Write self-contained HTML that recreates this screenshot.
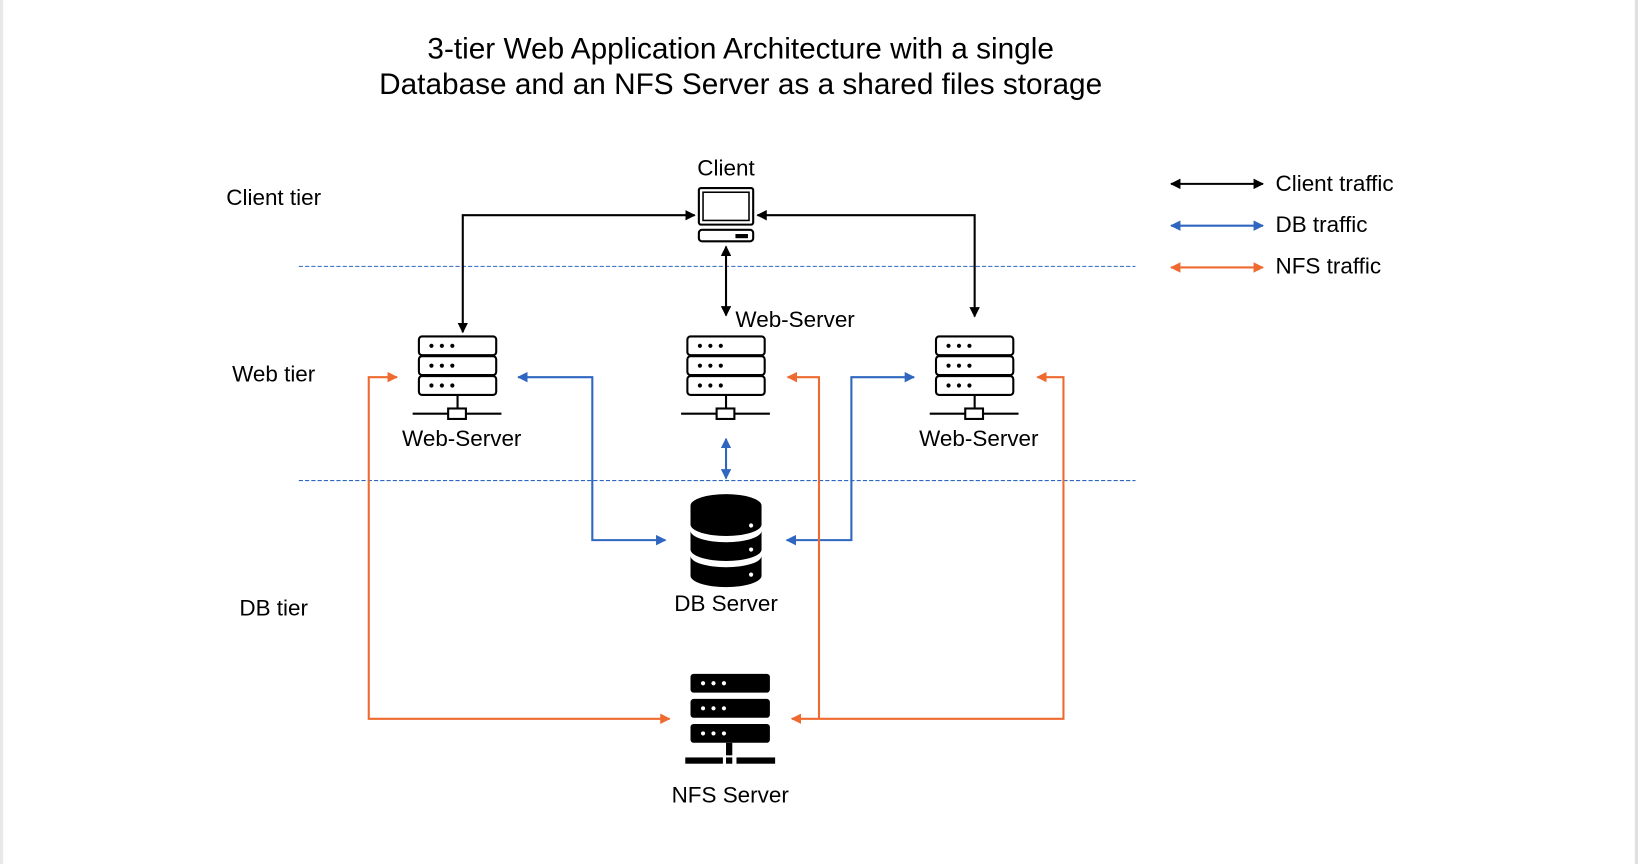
<!DOCTYPE html>
<html><head><meta charset="utf-8"><style>html,body{margin:0;padding:0;background:#fff;}svg{display:block}text{font-family:"Liberation Sans",Arial,sans-serif;fill:#000}</style></head><body>
<svg width="1638" height="864" viewBox="0 0 1568 827" preserveAspectRatio="none" xmlns="http://www.w3.org/2000/svg">
<defs>
<marker id="ak" viewBox="0 0 10 10" refX="9" refY="5" markerWidth="10" markerHeight="10" markerUnits="userSpaceOnUse" orient="auto-start-reverse"><path d="M0,0L10,5L0,10z" fill="#000"/></marker>
<marker id="ab" viewBox="0 0 10 10" refX="9" refY="5" markerWidth="10" markerHeight="10" markerUnits="userSpaceOnUse" orient="auto-start-reverse"><path d="M0,0L10,5L0,10z" fill="#2f67c0"/></marker>
<marker id="ao" viewBox="0 0 10 10" refX="9" refY="5" markerWidth="10" markerHeight="10" markerUnits="userSpaceOnUse" orient="auto-start-reverse"><path d="M0,0L10,5L0,10z" fill="#ee6a30"/></marker>
<g id="srv">
<rect x="1" y="1" width="74" height="18" rx="3" fill="#fff" stroke="#000" stroke-width="2"/>
<rect x="1" y="20" width="74" height="18" rx="3" fill="#fff" stroke="#000" stroke-width="2"/>
<rect x="1" y="39" width="74" height="18" rx="3" fill="#fff" stroke="#000" stroke-width="2"/>
<g fill="#000"><circle cx="13" cy="10" r="2"/><circle cx="23" cy="10" r="2"/><circle cx="33" cy="10" r="2"/><circle cx="13" cy="29" r="2"/><circle cx="23" cy="29" r="2"/><circle cx="33" cy="29" r="2"/><circle cx="13" cy="48" r="2"/><circle cx="23" cy="48" r="2"/><circle cx="33" cy="48" r="2"/></g>
<line x1="38" y1="58" x2="38" y2="70" stroke="#000" stroke-width="2"/>
<line x1="-5" y1="75" x2="80" y2="75" stroke="#000" stroke-width="2"/>
<rect x="29" y="70" width="17" height="10" fill="#fff" stroke="#000" stroke-width="2"/>
</g>
</defs>
<rect x="0" y="0" width="3" height="827" fill="#e8e8e8"/>
<rect x="1565" y="0" width="3" height="827" fill="#e0e0e0"/>
<text x="709" y="56" font-size="28.5" text-anchor="middle">3-tier Web Application Architecture with a single</text>
<text x="709" y="90" font-size="28.5" text-anchor="middle">Database and an NFS  Server as a shared files storage</text>
<g font-size="21.5" text-anchor="middle">
<text x="262" y="196">Client tier</text>
<text x="262" y="365">Web tier</text>
<text x="262" y="589">DB tier</text>
<text x="695" y="168">Client</text>
<text x="442" y="427">Web-Server</text>
<text x="937" y="427">Web-Server</text>
<text x="695" y="585">DB Server</text>
<text x="699" y="768">NFS Server</text>
</g>
<text x="704" y="313" font-size="21.5">Web-Server</text>
<g font-size="21.5"><text x="1221" y="183">Client traffic</text><text x="1221" y="222">DB traffic</text><text x="1221" y="262">NFS traffic</text></g>
<g stroke="#2f67c0" stroke-width="1" stroke-dasharray="4,2"><line x1="286" y1="255" x2="1087" y2="255"/><line x1="286" y1="460" x2="1087" y2="460"/></g>
<rect x="669" y="180" width="52" height="35" rx="2" fill="#fff" stroke="#000" stroke-width="2"/>
<rect x="673" y="184" width="44" height="27" fill="#fff" stroke="#000" stroke-width="1.5"/>
<rect x="669" y="220" width="52" height="11" rx="3" fill="#fff" stroke="#000" stroke-width="2"/>
<rect x="704" y="224" width="12" height="4" fill="#000"/>
<use href="#srv" x="400" y="321"/>
<use href="#srv" x="657" y="321"/>
<use href="#srv" x="895" y="321"/>
<g fill="#000">
<path d="M661,484 A34,11 0 0 1 729,484 L729,502 A34,11 0 0 1 661,502 Z"/>
<path d="M661,508 A34,11 0 0 0 729,508 L729,526 A34,11 0 0 1 661,526 Z"/>
<path d="M661,532 A34,11 0 0 0 729,532 L729,551 A34,11 0 0 1 661,551 Z"/>
</g>
<g fill="#fff"><circle cx="719" cy="503" r="2"/><circle cx="719" cy="526" r="2"/><circle cx="719" cy="550" r="2"/></g>
<g fill="#000">
<rect x="661" y="645" width="76" height="18" rx="3"/><rect x="661" y="669" width="76" height="18" rx="3"/><rect x="661" y="693" width="76" height="18" rx="3"/>
<rect x="695" y="711" width="6" height="12"/><rect x="656" y="725" width="36" height="6"/><rect x="695" y="725" width="6" height="6"/><rect x="705" y="725" width="37" height="6"/>
</g>
<g fill="#fff"><circle cx="673" cy="654" r="2"/><circle cx="683" cy="654" r="2"/><circle cx="693" cy="654" r="2"/><circle cx="673" cy="678" r="2"/><circle cx="683" cy="678" r="2"/><circle cx="693" cy="678" r="2"/><circle cx="673" cy="702" r="2"/><circle cx="683" cy="702" r="2"/><circle cx="693" cy="702" r="2"/></g>
<g fill="none" stroke="#000" stroke-width="2">
<polyline points="443,318 443,206 665,206" marker-start="url(#ak)" marker-end="url(#ak)"/>
<polyline points="933,303 933,206 725,206" marker-start="url(#ak)" marker-end="url(#ak)"/>
<line x1="695" y1="236" x2="695" y2="302" marker-start="url(#ak)" marker-end="url(#ak)"/>
<line x1="1121" y1="176" x2="1209" y2="176" marker-start="url(#ak)" marker-end="url(#ak)"/>
</g>
<g fill="none" stroke="#2f67c0" stroke-width="2">
<polyline points="496,361 567,361 567,517 637,517" marker-start="url(#ab)" marker-end="url(#ab)"/>
<polyline points="875,361 815,361 815,517 753,517" marker-start="url(#ab)" marker-end="url(#ab)"/>
<line x1="695" y1="420" x2="695" y2="458" marker-start="url(#ab)" marker-end="url(#ab)"/>
<line x1="1121" y1="216" x2="1209" y2="216" marker-start="url(#ab)" marker-end="url(#ab)"/>
</g>
<g fill="none" stroke="#ee6a30" stroke-width="2">
<polyline points="380,361 353,361 353,688 641,688" marker-start="url(#ao)" marker-end="url(#ao)"/>
<polyline points="754,361 784,361 784,688" marker-start="url(#ao)"/>
<polyline points="993,361 1018,361 1018,688 758,688" marker-start="url(#ao)" marker-end="url(#ao)"/>
<line x1="1121" y1="256" x2="1209" y2="256" marker-start="url(#ao)" marker-end="url(#ao)"/>
</g>
</svg>
</body></html>
